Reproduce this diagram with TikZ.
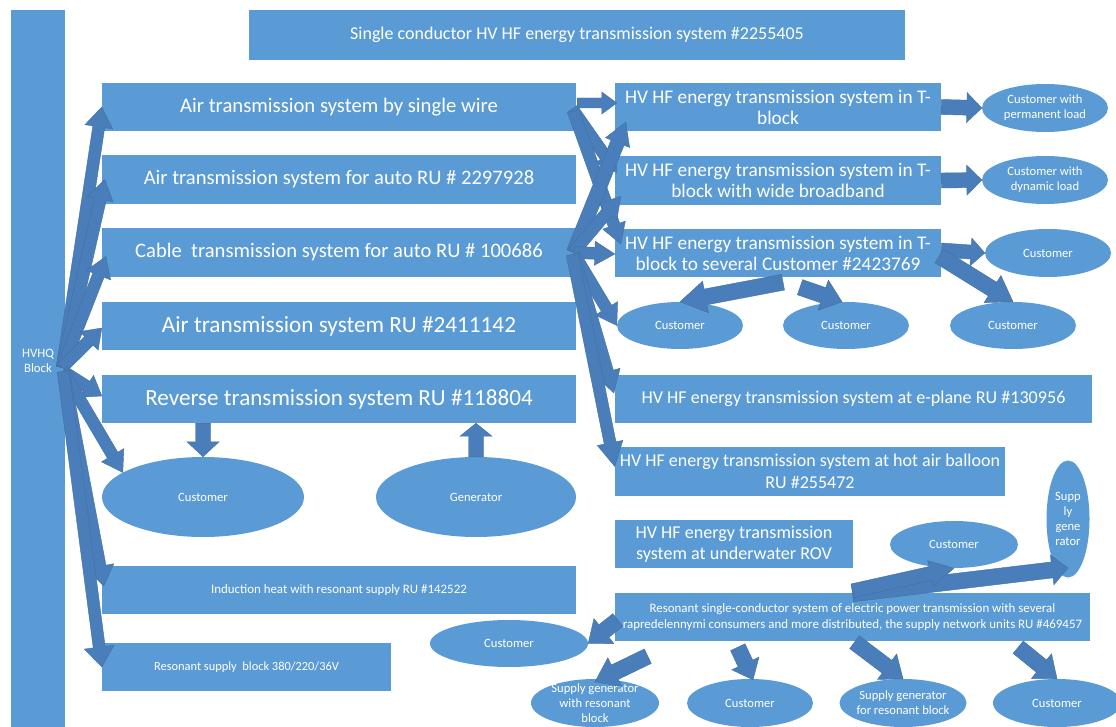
\documentclass[tikz,border=0pt]{standalone}
\usepackage{fontspec}
\setmainfont{Carlito}
\usetikzlibrary{calc,shapes.geometric}
\definecolor{boxblue}{HTML}{5B9BD5}
\definecolor{arrfill}{HTML}{4A7EBB}
\definecolor{arrline}{HTML}{41719C}
% block arrow: from, to, half shaft, half head, head length
\newcommand{\barrow}[5]{%
  \draw[arr] let \p1=(#1), \p2=(#2),
    \n1={atan2(\y2-\y1,\x2-\x1)}, \n2={veclen(\x2-\x1,\y2-\y1)} in
    ($(\p1)+(\n1+90:#3)$) -- ($(\p1)+(\n1:\n2-#5)+(\n1+90:#3)$) --
    ($(\p1)+(\n1:\n2-#5)+(\n1+90:#4)$) -- (\p2) --
    ($(\p1)+(\n1:\n2-#5)+(\n1-90:#4)$) -- ($(\p1)+(\n1:\n2-#5)+(\n1-90:#3)$) --
    ($(\p1)+(\n1-90:#3)$) -- cycle;}
\newcommand{\fsz}[2]{\fontsize{#1}{#2}\selectfont}
\begin{document}
\begin{tikzpicture}[x=1pt,y=1pt,
  box/.style={rectangle, fill=boxblue, text=white, inner sep=0pt, align=center},
  oval/.style={ellipse, fill=boxblue, inner sep=0pt},
  ovtext/.style={text=white, align=center, inner sep=0pt, font=\fsz{12.6}{15}},
  txt/.style={text=white, align=center, inner sep=0pt},
  arr/.style={fill=arrfill, draw=arrline, line width=0.4pt, line join=miter}]
\useasboundingbox (0,0) rectangle (1116,-727);

% ---------- nodes ----------
\node[box, minimum width=54, minimum height=717, label={[txt, font=\fsz{12.8}{15}, yshift=8]center:HVHQ\\Block}] (hvhq) at (38,-368.5) {};
\node[box, minimum width=656, minimum height=50, font=\fsz{18}{20}] (title) at (577,-35) {Single conductor HV HF energy transmission system \#2255405};

\node[box, minimum width=474, minimum height=48, font=\fsz{20.7}{24}] (airsw) at (339,-107) {Air transmission system by single wire};
\node[box, minimum width=474, minimum height=49, font=\fsz{20.6}{23}] (airauto) at (339,-179.5) {Air transmission system for auto RU \# 2297928};
\node[box, minimum width=474, minimum height=49, font=\fsz{20.6}{23}] (cable) at (339,-252.5) {Cable\ \ transmission system for auto RU \# 100686};
\node[box, minimum width=474, minimum height=48, font=\fsz{23.2}{25}] (airru) at (339,-326) {Air transmission system RU \#2411142};
\node[box, minimum width=474, minimum height=48, font=\fsz{23.1}{25}] (reverse) at (339,-399) {Reverse transmission system RU \#118804};
\node[oval, minimum width=202, minimum height=80, label={[ovtext]center:Customer}] (custL) at (203,-497) {};
\node[oval, minimum width=200, minimum height=80, label={[ovtext]center:Generator}] (gen) at (476,-497) {};
\node[box, minimum width=474, minimum height=48, font=\fsz{12.9}{15}] (induct) at (339,-590) {Induction heat with resonant supply RU \#142522};
\node[box, minimum width=289, minimum height=48, font=\fsz{12.4}{15}] (ressup) at (246.5,-667) {Resonant supply\ \ block 380/220/36V};

\node[box, minimum width=326, minimum height=48, font=\fsz{19.3}{21}] (tb1) at (778,-107) {HV HF energy transmission system in T-\\block};
\node[box, minimum width=326, minimum height=49, font=\fsz{19.3}{21}] (tb2) at (778,-180.5) {HV HF energy transmission system in T-\\block with wide broadband};
\node[box, minimum width=326, minimum height=48, font=\fsz{19.3}{21}] (tb3) at (778,-253) {HV HF energy transmission system in T-\\block to several Customer \#2423769};
\node[oval, minimum width=126, minimum height=48, label={[ovtext]center:Customer with\\permanent load}] (cperm) at (1045,-108) {};
\node[oval, minimum width=126, minimum height=48, label={[ovtext]center:Customer with\\dynamic load}] (cdyn) at (1045,-180) {};
\node[oval, minimum width=126, minimum height=48, label={[ovtext]center:Customer}] (cT3) at (1048,-253) {};
\node[oval, minimum width=126, minimum height=47, label={[ovtext]center:Customer}] (c1) at (680,-325.5) {};
\node[oval, minimum width=126, minimum height=47, label={[ovtext]center:Customer}] (c2) at (846,-325.5) {};
\node[oval, minimum width=126, minimum height=47, label={[ovtext]center:Customer}] (c3) at (1013,-325.5) {};
\node[box, minimum width=477, minimum height=48, font=\fsz{18.1}{21}] (eplane) at (853.5,-399) {HV HF energy transmission system at e-plane RU \#130956};
\node[box, minimum width=390, minimum height=49, font=\fsz{18}{22}] (balloon) at (810,-471.5) {HV HF energy transmission system at hot air balloon\\RU \#255472};
\node[box, minimum width=238, minimum height=48, font=\fsz{18.1}{21}] (rov) at (734,-544) {HV HF energy transmission\\system at underwater ROV};
\node[box, minimum width=475, minimum height=48] (resnet) at (852.5,-617) {};
\node[oval, minimum width=158, minimum height=47, label={[ovtext]center:Customer}] (cRes) at (509,-643.5) {};
\node[oval, minimum width=128, minimum height=48, label={[ovtext]center:Supply generator\\with resonant\\block}] (sgres) at (595,-703) {};
\node[oval, minimum width=126, minimum height=48, label={[ovtext]center:Customer}] (cB) at (750,-703) {};
\node[oval, minimum width=127, minimum height=48, label={[ovtext]center:Supply generator\\for resonant block}] (sgfor) at (903,-703) {};
\node[oval, minimum width=128, minimum height=48, label={[ovtext]center:Customer}] (cBR) at (1057,-703) {};
\node[oval, minimum width=128, minimum height=47, label={[ovtext]center:Customer}] (cUp) at (954,-544.5) {};
\node[oval, minimum width=43, minimum height=117, label={[ovtext]center:Supp\\ly\\gene\\rator}] (sgv) at (1068,-519) {};

% ---------- left fan ----------
\coordinate (fanA) at ($(hvhq.east)+(-3,1)$);
\coordinate (fanB) at ($(hvhq.east)+(-2,-3)$);
\barrow{fanA}{airsw.west}{6}{14}{20}
\barrow{fanA}{$(airauto.west)+(3,0)$}{6}{13}{20}
\barrow{fanA}{$(cable.west)+(4,-4)$}{6}{13}{20}
\barrow{fanA}{$(airru.west)+(0,-2)$}{6}{13}{18}
\barrow{fanB}{$(reverse.west)+(0,3)$}{6}{13}{18}
\barrow{fanB}{custL.163}{6}{13}{20}
\barrow{fanB}{$(induct.west)+(2,4)$}{6}{14}{20}
\barrow{fanB}{ressup.west}{6}{15}{20}

% ---------- reverse / customer / generator ----------
\barrow{$(reverse.south)+(-136,0)$}{custL.north}{7.5}{16}{15}
\barrow{gen.north}{$(reverse.south)+(137,0)$}{7.5}{16}{13}

% ---------- right fan ----------
\barrow{$(airsw.east)+(1,4)$}{$(tb1.west)+(2,4)$}{5}{11}{15}
\barrow{$(airsw.east)+(-4,-2)$}{$(tb2.west)+(2,8)$}{6}{12}{20}
\barrow{$(airsw.east)+(-3,-4)$}{$(tb3.west)+(6,9)$}{6}{12}{20}
\barrow{$(cable.east)+(-3,0)$}{$(tb1.south west)+(11,9)$}{7}{13}{22}
\barrow{$(cable.east)+(-3,0)$}{$(tb2.south west)+(6,9)$}{6}{12}{20}
\barrow{$(cable.east)+(-2,0)$}{$(tb3.west)+(0,-1)$}{6}{12}{20}
\barrow{$(cable.east)+(-2,-2)$}{c1.west}{6}{13}{20}
\barrow{$(cable.east)+(-3,-2)$}{$(eplane.west)+(-1,6)$}{6}{13}{22}
\barrow{$(cable.east)+(-4,-2)$}{$(balloon.west)+(0,5)$}{6}{13}{24}

% ---------- T-blocks to customers ----------
\barrow{tb1.east}{cperm.west}{7.5}{15}{15}
\barrow{tb2.east}{cdyn.west}{7.5}{15}{15}
\barrow{$(tb3.east)+(0,3)$}{cT3.west}{7}{14}{14}
\barrow{$(tb3.east)+(-2,-3)$}{c3.north}{8}{16}{24}
\barrow{$(tb3.south)+(5,-5)$}{c1.north}{8}{16}{26}
\barrow{$(tb3.south)+(22,-10)$}{$(c2.north)+(-4,0)$}{8}{16}{20}

% ---------- resonant network ----------
\barrow{$(resnet.north)+(0,-1)$}{$(sgv.center)+(0,-49)$}{8}{15}{16}
\barrow{$(resnet.north)+(0,2)$}{cUp.south}{7}{13}{24}
\barrow{$(resnet.west)+(3,-3)$}{cRes.east}{8}{16}{20}
\barrow{$(resnet.south west)+(33,-15)$}{$(sgres.north)+(0,-3)$}{8}{16}{22}
\barrow{$(resnet.south west)+(123,-6)$}{$(cB.north)+(3,-1)$}{8}{15}{18}
\barrow{$(resnet.south)+(2,-1)$}{sgfor.north}{8}{16}{20}
\barrow{$(resnet.south east)+(-72,-6)$}{cBR.north}{8}{16}{20}
\node[txt, font=\fsz{12.9}{16}] (resnettxt) at (resnet.center) {Resonant single-conductor system of electric power transmission with several\\rapredelennymi consumers and more distributed, the supply network units RU \#469457};
\end{tikzpicture}
\end{document}
